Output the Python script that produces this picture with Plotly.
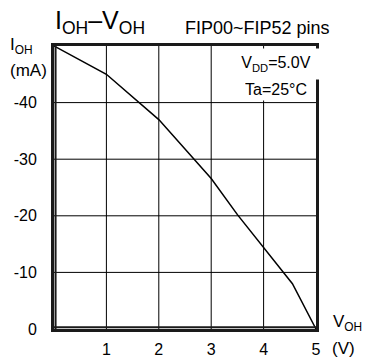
import plotly.graph_objects as go

# Data
v_oh = [0, 1, 2, 2.5, 3, 3.5, 4, 4.55, 5]
i_oh = [-50, -45, -37, -31.7, -26.6, -20.2, -14.4, -8.0, 0]

x_ticks = [1, 2, 3, 4, 5]
x_ticktext = ["1", "2", "3", "4", "5"]
y_ticks = [0, -10, -20, -30, -40]
y_ticktext = ["0", "-10", "-20", "-30", "-40"]
x_range = [0, 5]
y_range = [0, -50]

W, H = 366, 361
L, R, T, B = 54, 316, 46, 329


def px(x):
    return (x - L) / (R - L)


def py(y):
    return (B - y) / (B - T)


FONT = "Liberation Sans, Arial, sans-serif"
BLACK = "#000000"
FRAME = "#1a1a1a"

fig = go.Figure()
fig.add_trace(go.Scatter(x=v_oh, y=i_oh, mode="lines",
                         line=dict(color=BLACK, width=1.5),
                         showlegend=False, hoverinfo="skip"))

fig.update_layout(
    width=W, height=H,
    margin=dict(l=L, r=W - R, t=T, b=H - B, pad=0, autoexpand=False),
    paper_bgcolor="#ffffff", plot_bgcolor="#ffffff",
    font=dict(family=FONT, size=16, color=BLACK),
    xaxis=dict(range=x_range, tickvals=x_ticks, ticktext=x_ticktext,
               showgrid=False, showline=True, linecolor=FRAME, linewidth=3,
               mirror=True, zeroline=False, ticks="", ticklabelstandoff=4,
               tickfont=dict(size=16)),
    yaxis=dict(range=y_range, tickvals=y_ticks, ticktext=y_ticktext,
               showgrid=False, showline=True, linecolor=FRAME, linewidth=3,
               mirror=True, zeroline=False, ticks="", ticklabelstandoff=11,
               tickfont=dict(size=16)),
)

# grid lines at the tick values (drawn through the axes' scales)
shapes = []
for xv in x_ticks[:-1]:
    shapes.append(dict(type="line", xref="x", yref="y", x0=xv, x1=xv,
                       y0=y_range[0], y1=y_range[1], layer="below",
                       line=dict(color=BLACK, width=1)))
for yv in y_ticks[1:]:
    shapes.append(dict(type="line", xref="x", yref="y", x0=x_range[0], x1=x_range[1],
                       y0=yv, y1=yv, layer="below",
                       line=dict(color=BLACK, width=1)))
# reinforce left and bottom frame sides
shapes.append(dict(type="line", xref="paper", yref="paper", x0=0.006, x1=0.006,
                   y0=0, y1=1, layer="above", line=dict(color=FRAME, width=2)))
shapes.append(dict(type="line", xref="paper", yref="paper", x0=0, x1=1,
                   y0=0.006, y1=0.006, layer="above", line=dict(color=FRAME, width=2)))
fig.update_layout(shapes=shapes)

ann = [
    dict(text="I<sub>OH</sub>–V<sub>OH</sub>", x=px(53), y=py(22), xanchor="left",
         yanchor="middle", font=dict(size=25)),
    dict(text="FIP00~FIP52 pins", x=px(183), y=py(28), xanchor="left",
         yanchor="middle", font=dict(size=18)),
    dict(text="I<sub>OH</sub>", x=px(8), y=py(46), xanchor="left",
         yanchor="middle", font=dict(size=17)),
    dict(text="(mA)", x=px(8), y=py(70), xanchor="left",
         yanchor="middle", font=dict(size=17)),
    dict(text="V<sub>OH</sub>", x=px(331), y=py(323), xanchor="left",
         yanchor="middle", font=dict(size=17)),
    dict(text="(V)", x=px(330), y=py(348), xanchor="left",
         yanchor="middle", font=dict(size=17)),
    dict(text="V<sub>DD</sub>=5.0V", x=px(276), y=py(64), xanchor="center",
         yanchor="middle", font=dict(size=16), bgcolor="#ffffff",
         width=86, height=30, borderpad=0),
    dict(text="Ta=25°C", x=px(276), y=py(89), xanchor="center",
         yanchor="middle", font=dict(size=16), bgcolor="#ffffff", borderpad=0,
         height=22),
]
for a in ann:
    a.update(xref="paper", yref="paper", showarrow=False)
fig.update_layout(annotations=ann)

fig.write_html(
    "out.html",
    config={"responsive": False, "displayModeBar": False},
    post_script="document.body.style.margin='0';document.body.style.overflow='hidden';",
)
